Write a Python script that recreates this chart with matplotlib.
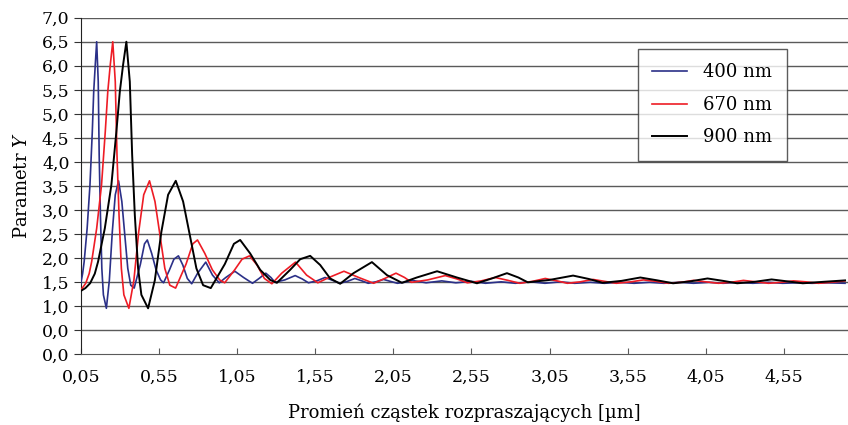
import matplotlib
matplotlib.use("Agg")
import matplotlib.pyplot as plt

plt.rcParams['font.family'] = ['DejaVu Serif']
plt.rcParams['mathtext.fontset'] = 'dejavuserif'

# promien [um] / parametr Y
r_400 = [0.05, 0.062, 0.072, 0.091, 0.109, 0.124, 0.133, 0.143, 0.152, 0.162, 0.168, 0.176, 0.185, 0.195,
         0.214, 0.233, 0.252, 0.271, 0.292, 0.313, 0.332, 0.351, 0.370, 0.392, 0.432, 0.458, 0.476, 0.504,
         0.532, 0.561, 0.580, 0.618, 0.646, 0.675, 0.703, 0.732, 0.760, 0.798, 0.850, 0.893, 0.936, 0.978,
         1.036, 1.092, 1.149, 1.191, 1.234, 1.267, 1.293, 1.356, 1.422, 1.467, 1.507, 1.56, 1.613, 1.662,
         1.707, 1.756, 1.804, 1.849, 1.889, 1.938, 1.987, 2.031, 2.076, 2.12, 2.17, 2.26, 2.36, 2.45, 2.55,
         2.64, 2.74, 2.83, 2.93, 3.02, 3.12, 3.21, 3.31, 3.40, 3.50, 3.59, 3.69, 3.78, 3.88, 3.97, 4.07,
         4.16, 4.26, 4.35, 4.45, 4.54, 4.64, 4.73, 4.83, 4.94]
y_400 = [1.47, 1.68, 1.93, 2.62, 3.52, 4.63, 5.46, 6.02, 6.5, 5.67, 4.15, 2.9, 1.79, 1.24,
         0.96, 1.54, 2.55, 3.32, 3.61, 3.18, 2.48, 1.79, 1.44, 1.38, 1.88, 2.3, 2.38, 2.1,
         1.76, 1.55, 1.49, 1.76, 1.98, 2.05, 1.86, 1.58, 1.47, 1.69, 1.92, 1.65, 1.49, 1.6,
         1.73, 1.6, 1.48, 1.58, 1.69, 1.6, 1.5, 1.55, 1.64, 1.57, 1.49, 1.53, 1.60, 1.54,
         1.48, 1.52, 1.58, 1.53, 1.48, 1.51, 1.56, 1.52, 1.48, 1.50, 1.54, 1.49, 1.53, 1.49, 1.52,
         1.48, 1.51, 1.48, 1.51, 1.48, 1.51, 1.48, 1.50, 1.48, 1.50, 1.48, 1.50, 1.48, 1.50, 1.48, 1.50,
         1.48, 1.50, 1.48, 1.50, 1.48, 1.49, 1.48, 1.49, 1.48]

r_670 = [0.05, 0.060, 0.082, 0.104, 0.120, 0.152, 0.183, 0.207, 0.223, 0.239, 0.255, 0.271, 0.282, 0.295,
         0.310, 0.326, 0.358, 0.390, 0.421, 0.453, 0.490, 0.525, 0.557, 0.588, 0.620, 0.657, 0.724, 0.767,
         0.797, 0.844, 0.892, 0.939, 0.971, 1.035, 1.082, 1.130, 1.178, 1.225, 1.273, 1.336, 1.424, 1.495,
         1.567, 1.638, 1.734, 1.829, 1.924, 1.995, 2.067, 2.122, 2.166, 2.270, 2.382, 2.457, 2.524, 2.613,
         2.702, 2.784, 2.859, 2.940, 3.022, 3.097, 3.164, 3.246, 3.327, 3.402, 3.476, 3.57, 3.65, 3.73,
         3.81, 3.89, 3.97, 4.05, 4.13, 4.21, 4.29, 4.37, 4.45, 4.53, 4.61, 4.69, 4.77, 4.85, 4.94]
y_670 = [1.34, 1.38, 1.48, 1.68, 1.93, 2.62, 3.52, 4.63, 5.46, 6.02, 6.5, 5.67, 4.15, 2.9,
         1.79, 1.24, 0.96, 1.54, 2.55, 3.32, 3.61, 3.18, 2.48, 1.79, 1.44, 1.38, 1.88, 2.3,
         2.38, 2.1, 1.76, 1.55, 1.49, 1.76, 1.98, 2.05, 1.86, 1.58, 1.47, 1.69, 1.92, 1.65,
         1.49, 1.6, 1.73, 1.6, 1.48, 1.58, 1.69, 1.6, 1.5, 1.55, 1.64, 1.57, 1.49, 1.53,
         1.60, 1.54, 1.48, 1.52, 1.58, 1.53, 1.48, 1.51, 1.56, 1.52, 1.48, 1.51, 1.55, 1.52,
         1.48, 1.50, 1.54, 1.51, 1.48, 1.50, 1.54, 1.51, 1.48, 1.50, 1.53, 1.51, 1.48, 1.50, 1.53]

r_900 = [0.05, 0.08, 0.11, 0.14, 0.161, 0.204, 0.246, 0.278, 0.300, 0.321, 0.342, 0.364, 0.379, 0.396,
         0.417, 0.438, 0.481, 0.524, 0.566, 0.609, 0.658, 0.705, 0.748, 0.790, 0.833, 0.882, 0.972, 1.03,
         1.07, 1.134, 1.198, 1.262, 1.305, 1.39, 1.454, 1.518, 1.582, 1.646, 1.71, 1.795, 1.913, 2.009,
         2.105, 2.20, 2.33, 2.457, 2.585, 2.68, 2.777, 2.85, 2.91, 3.05, 3.20, 3.30, 3.39, 3.51,
         3.63, 3.74, 3.84, 3.95, 4.06, 4.16, 4.25, 4.36, 4.47, 4.57, 4.67, 4.80, 4.94]
y_900 = [1.32, 1.38, 1.48, 1.68, 1.93, 2.62, 3.52, 4.63, 5.46, 6.02, 6.5, 5.67, 4.15, 2.9,
         1.79, 1.24, 0.96, 1.54, 2.55, 3.32, 3.61, 3.18, 2.48, 1.79, 1.44, 1.38, 1.88, 2.3,
         2.38, 2.1, 1.76, 1.55, 1.49, 1.76, 1.98, 2.05, 1.86, 1.58, 1.47, 1.69, 1.92, 1.65,
         1.49, 1.6, 1.73, 1.6, 1.48, 1.58, 1.69, 1.6, 1.5, 1.55, 1.64, 1.57, 1.49, 1.53,
         1.60, 1.54, 1.48, 1.52, 1.58, 1.53, 1.48, 1.51, 1.56, 1.52, 1.48, 1.51, 1.54]

x_ticks = [0.05, 0.55, 1.05, 1.55, 2.05, 2.55, 3.05, 3.55, 4.05, 4.55]
x_labels = ["0,05", "0,55", "1,05", "1,55", "2,05", "2,55", "3,05", "3,55", "4,05", "4,55"]
y_ticks = [0.0, 0.5, 1.0, 1.5, 2.0, 2.5, 3.0, 3.5, 4.0, 4.5, 5.0, 5.5, 6.0, 6.5, 7.0]
y_labels = ["0,0", "0,0", "1,0", "1,5", "2,0", "2,5", "3,0", "3,5", "4,0", "4,5",
            "5,0", "5,5", "6,0", "6,5", "7,0"]

fig = plt.figure(figsize=(8.48, 4.25), dpi=100)
ax = fig.add_axes([0.0952, 0.1659, 0.905, 0.7925])

for yv in y_ticks[1:]:
    ax.axhline(yv, color="#5a5a5a", lw=1.0, zorder=1)

ax.plot(r_400, y_400, color="#2b3088", lw=1.2, label="400 nm", zorder=3)
ax.plot(r_670, y_670, color="#ee1c25", lw=1.2, label="670 nm", zorder=3)
ax.plot(r_900, y_900, color="black", lw=1.4, label="900 nm", zorder=3)

ax.set_xlim(0.05, 4.96)
ax.set_ylim(0, 7.0)
ax.set_xticks(x_ticks)
ax.set_xticklabels(x_labels)
ax.set_yticks(y_ticks)
ax.set_yticklabels(y_labels)
ax.tick_params(axis="x", direction="in", length=4, color="#5a5a5a", labelsize=12.5, pad=10)
ax.tick_params(axis="y", direction="out", length=5, color="#333333", labelsize=12.5, pad=3)

ax.spines["top"].set_visible(False)
ax.spines["right"].set_visible(False)
ax.spines["left"].set_color("#222222")
ax.spines["bottom"].set_color("#5a5a5a")

ax.set_xlabel("Promień cząstek rozpraszających [µm]", fontsize=13, labelpad=13)
ax.set_ylabel("Parametr $Y$", fontsize=13, labelpad=8)

leg = ax.legend(loc="upper left", bbox_to_anchor=(638 / 848, 1 - 49 / 425),
                bbox_transform=fig.transFigure, fontsize=13, frameon=True,
                fancybox=False, edgecolor="#333333", borderpad=0.8, labelspacing=0.8,
                handlelength=1.9, handletextpad=0.9, borderaxespad=0)
leg.get_frame().set_linewidth(1.0)

fig.savefig("out.png", dpi=100)
